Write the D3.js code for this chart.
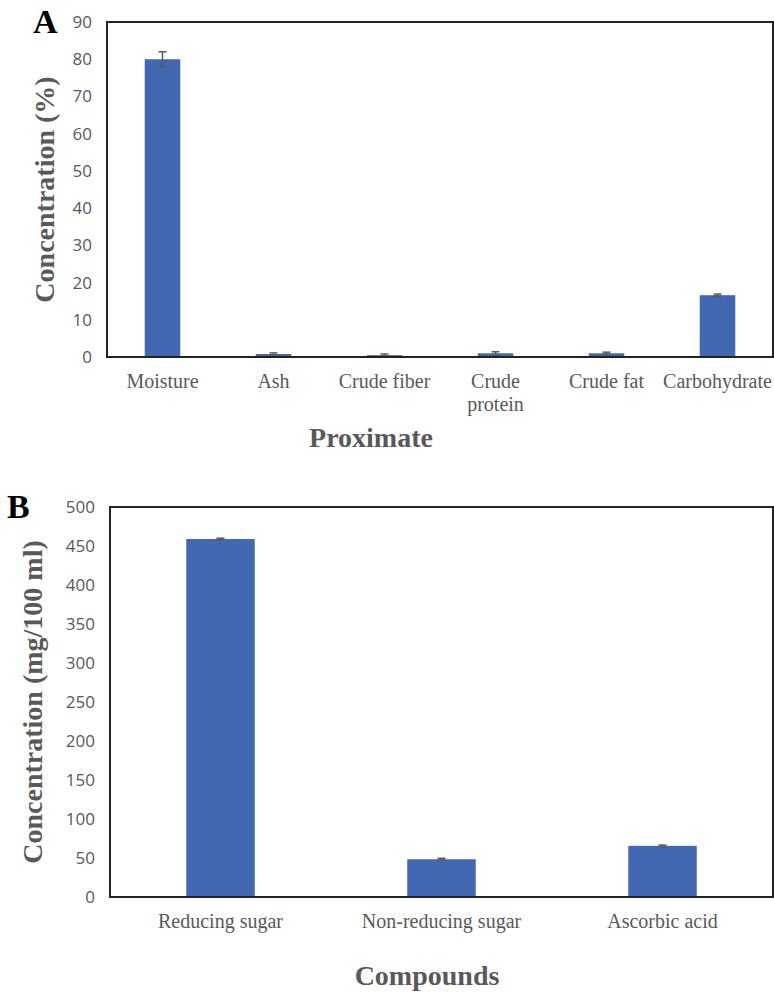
<!DOCTYPE html>
<html>
<head>
<meta charset="utf-8">
<script src="https://cdn.jsdelivr.net/npm/d3@7"></script>
<style>
  body { margin: 0; background: #fff; }
  .tick text { font-family: "Open Sans", sans-serif; font-size: 17px; fill: #595959; }
  .cat { font-family: "Liberation Serif", "Times New Roman", serif; font-size: 20px; fill: #595959; }
  .title { font-family: "Liberation Serif", "Times New Roman", serif; font-weight: bold; font-size: 28px; fill: #595959; }
  .panel { font-family: "Liberation Serif", "Times New Roman", serif; font-weight: bold; font-size: 34px; fill: #000; }
</style>
</head>
<body>
<div id="chart"></div>
<script>
/* data */
var proxCategories = ["Moisture", "Ash", "Crude fiber", "Crude protein", "Crude fat", "Carbohydrate"];
var proxValues = [80.0, 0.8, 0.5, 1.0, 1.0, 16.6];
var proxErrors = [2.0, 0.3, 0.3, 0.4, 0.3, 0.3];
var proxTicks = [0, 10, 20, 30, 40, 50, 60, 70, 80, 90];

var compCategories = ["Reducing sugar", "Non-reducing sugar", "Ascorbic acid"];
var compValues = [459, 48.4, 65.6];
var compErrors = [1.0, 1.2, 1.0];
var compTicks = [0, 50, 100, 150, 200, 250, 300, 350, 400, 450, 500];

var barColor = "#4168b1";

var svg = d3.select("#chart").append("svg")
            .attr("width", 774)
            .attr("height", 993);

// draws one bar panel
function drawPanel(opts) {
  var x = d3.scaleBand()
            .domain(opts.categories)
            .range([opts.left, opts.right])
            .paddingInner(opts.pad)
            .paddingOuter(opts.pad / 2);
  var y = d3.scaleLinear()
            .domain([0, opts.max])
            .range([opts.bottom, opts.top]);

  var g = svg.append("g");

  // y axis labels, no ticks or line
  var yAxis = g.append("g")
               .attr("transform", "translate(" + (opts.left - 15) + ",0)")
               .call(d3.axisLeft(y).tickValues(opts.ticks).tickSize(0).tickPadding(0));
  yAxis.select(".domain").remove();

  // bars
  var data = opts.categories.map(function(c, i) {
    return { cat: c, value: opts.values[i], err: opts.errors[i] };
  });
  g.selectAll("rect.bar")
    .data(data)
    .enter()
    .append("rect")
    .attr("class", "bar")
    .attr("fill", barColor)
    .attr("x", function(d) { return x(d.cat); })
    .attr("width", x.bandwidth())
    .attr("y", function(d) { return y(d.value); })
    .attr("height", function(d) { return y(0) - y(d.value); });

  // error bars
  var eb = g.selectAll("g.err")
            .data(data)
            .enter()
            .append("g")
            .attr("class", "err")
            .attr("stroke", "#595959")
            .attr("stroke-width", 1.5);
  eb.append("line")
    .attr("x1", function(d) { return x(d.cat) + x.bandwidth() / 2; })
    .attr("x2", function(d) { return x(d.cat) + x.bandwidth() / 2; })
    .attr("y1", function(d) { return y(d.value - d.err); })
    .attr("y2", function(d) { return y(d.value + d.err); });
  [1, -1].forEach(function(s) {
    eb.append("line")
      .attr("x1", function(d) { return x(d.cat) + x.bandwidth() / 2 - 4; })
      .attr("x2", function(d) { return x(d.cat) + x.bandwidth() / 2 + 4; })
      .attr("y1", function(d) { return y(d.value + s * d.err); })
      .attr("y2", function(d) { return y(d.value + s * d.err); });
  });

  // plot frame
  g.append("rect")
    .attr("x", opts.left)
    .attr("y", opts.top)
    .attr("width", opts.right - opts.left)
    .attr("height", opts.bottom - opts.top)
    .attr("fill", "none")
    .attr("stroke", "#222")
    .attr("stroke-width", 2);

  // category labels (wrap two-word labels where needed)
  var labels = g.selectAll("text.cat")
                .data(data)
                .enter()
                .append("text")
                .attr("class", "cat")
                .attr("text-anchor", "middle")
                .attr("y", opts.bottom + opts.catDy);
  labels.each(function(d) {
    var lines = opts.wrap.indexOf(d.cat) >= 0 ? d.cat.split(" ") : [d.cat];
    var t = d3.select(this);
    lines.forEach(function(l, i) {
      t.append("tspan")
       .attr("x", x(d.cat) + x.bandwidth() / 2)
       .attr("dy", i === 0 ? 0 : 23)
       .text(l);
    });
  });

  // axis titles
  g.append("text")
    .attr("class", "title")
    .attr("text-anchor", "middle")
    .attr("x", opts.xTitleX)
    .attr("y", opts.xTitleY)
    .text(opts.xTitle);
  g.append("text")
    .attr("class", "title")
    .attr("text-anchor", "middle")
    .attr("transform", "translate(" + opts.yTitleX + "," + ((opts.top + opts.bottom) / 2) + ") rotate(-90)")
    .text(opts.yTitle);

  // panel letter
  g.append("text")
    .attr("class", "panel")
    .attr("x", opts.letterX)
    .attr("y", opts.letterY)
    .text(opts.letter);
}

drawPanel({
  categories: proxCategories, values: proxValues, errors: proxErrors, ticks: proxTicks, max: 90,
  left: 107, right: 773, top: 22, bottom: 357, pad: 0.68,
  catDy: 31, wrap: ["Crude protein"],
  xTitle: "Proximate", xTitleX: 371, xTitleY: 447,
  yTitle: "Concentration (%)", yTitleX: 54,
  letter: "A", letterX: 33, letterY: 33
});

drawPanel({
  categories: compCategories, values: compValues, errors: compErrors, ticks: compTicks, max: 500,
  left: 110, right: 773, top: 507, bottom: 897, pad: 0.69,
  catDy: 31, wrap: [],
  xTitle: "Compounds", xTitleX: 427, xTitleY: 985,
  yTitle: "Concentration (mg/100 ml)", yTitleX: 42,
  letter: "B", letterX: 7, letterY: 518
});
</script>
</body>
</html>
